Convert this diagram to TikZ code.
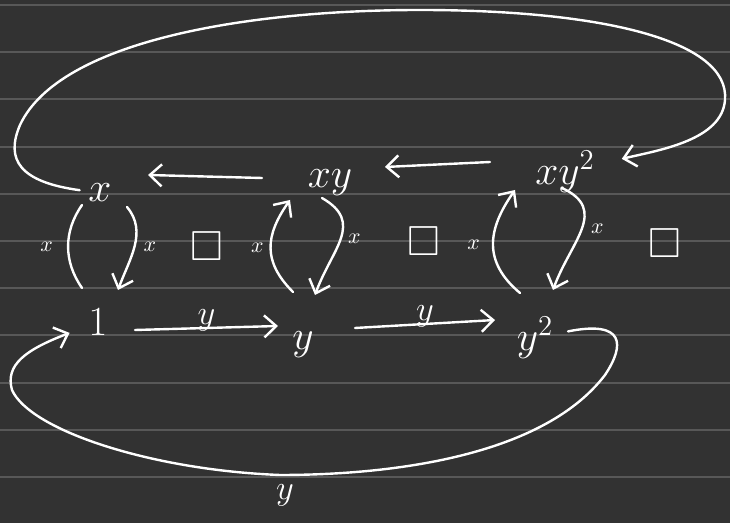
\documentclass[tikz,border=0pt]{standalone}
\usepackage{amssymb}
\usetikzlibrary{positioning,arrows.meta}
\definecolor{boardgray}{RGB}{50,50,50}
\definecolor{rulegray}{RGB}{88,88,88}

\begin{document}
\begin{tikzpicture}[
  x=0.5pt, y=0.5pt,
  elem/.style={circle, text=white, inner sep=2pt, minimum size=20pt,
               font=\fontsize{20}{24}\selectfont},
  box/.style={text=white, inner sep=0pt, font=\fontsize{21}{24}\selectfont},
  xlab/.style={text=white, inner sep=1pt, font=\fontsize{11}{13}\selectfont},
  ylab/.style={text=white, inner sep=1pt, font=\fontsize{16}{19}\selectfont},
  line/.style={draw=white, line width=1.2pt, line cap=round},
  arr/.style={line, -{Straight Barb[length=6pt,width=11pt]}}
]
\fill[boardgray] (0,0) rectangle (730,-523);
\useasboundingbox (0,0) rectangle (730,-523);
\foreach \k in {0,...,11}
  \draw[rulegray, line width=1pt] (0,{-5-47.2*\k}) -- (730,{-5-47.2*\k});

% top row
\node[elem] (nx) at (100,-193) {$x$};
\node[elem] (nxy) at (330,-183) {$xy$};
\node[elem] (nxyy) at (565,-172) {$xy^2$};
% bottom row
\node[elem] (n1) at (98,-322) {$1$};
\node[elem] (ny) at (303,-345) {$y$};
\node[elem] (nyy) at (535,-338) {$y^2$};
% squares
\node[box] (sq1) at (207,-246) {$\square$};
\node[box] (sq2) at (424,-241) {$\square$};
\node[box] (sq3) at (665,-243) {$\square$};

% x arcs
\draw[line] ([shift={(-8pt,17pt)}]n1.center) to[out=125,in=-125]
  node[xlab, left=6pt] {$x$} ([shift={(-9pt,-6pt)}]nx.center);
\draw[arr] ([shift={(13.5pt,-7pt)}]nx.center) to[out=-50,in=70]
  node[xlab, right=3pt] {$x$} ([shift={(10pt,16pt)}]n1.center);
\draw[arr] ([shift={(-5pt,26.5pt)}]ny.center) to[out=135,in=-125, looseness=1.2]
  node[xlab, left=2pt] {$x$} ([shift={(-20pt,-8.5pt)}]nxy.center);
\draw[arr] ([shift={(-4pt,-7.5pt)}]nxy.center) to[out=-30,in=70, looseness=1.3]
  node[xlab, right=2pt] {$x$} ([shift={(6pt,25pt)}]ny.center);
\draw[arr] ([shift={(-7.5pt,22.5pt)}]nyy.center) to[out=140,in=-125, looseness=1.2]
  node[xlab, left=5pt] {$x$} ([shift={(-25pt,-9pt)}]nxyy.center);
\draw[arr] ([shift={(-1.5pt,-8pt)}]nxyy.center) to[out=-25,in=70, looseness=1.3]
  node[xlab, right=3pt] {$x$} ([shift={(9pt,24pt)}]nyy.center);

% y arrows, top
\draw[arr] ([shift={(-34pt,2.5pt)}]nxy.center) -- ([shift={(24pt,9pt)}]nx.center);
\draw[arr] ([shift={(-37.5pt,5pt)}]nxyy.center) -- ([shift={(27.5pt,8pt)}]nxy.center);
\draw[arr, shorten >=8pt] (nx) .. controls (20,-182) and (5,-160) .. (20,-125)
  .. controls (60,-40) and (250,-10) .. (420,-10)
  .. controls (600,-10) and (730,-40) .. (725,-100)
  .. controls (722,-140) and (660,-150) .. (nxyy);

% y arrows, bottom
\draw[arr] ([shift={(18.5pt,-4pt)}]n1.center) -- node[ylab, above, yshift=-3pt] {$y$}
  ([shift={(-12.5pt,9.5pt)}]ny.center);
\draw[arr] ([shift={(26pt,8.5pt)}]ny.center) -- node[ylab, above, yshift=-3pt] {$y$}
  ([shift={(-20pt,9pt)}]nyy.center);
\draw[arr, shorten >=4pt] (nyy) .. controls (625,-320) and (625,-345) .. (605,-375)
  .. controls (540,-460) and (380,-475) .. (280,-475)
  .. controls (150,-470) and (30,-430) .. (12,-390)
  .. controls (5,-365) and (25,-350) .. (n1);
\node[ylab, font=\fontsize{18}{21}\selectfont] (lbot) at (285,-495) {$y$};
\end{tikzpicture}
\end{document}
